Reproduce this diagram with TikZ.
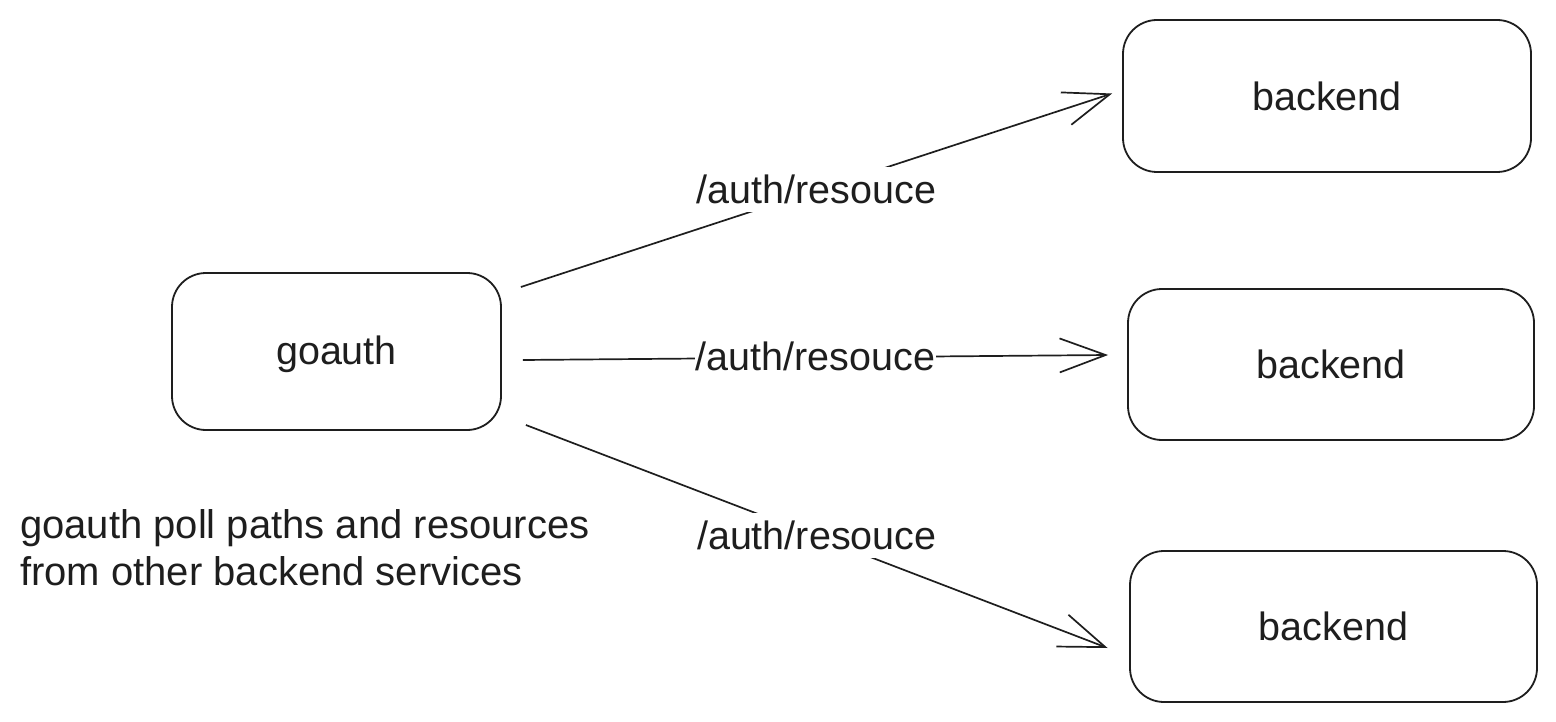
\documentclass[tikz,border=0pt]{standalone}
\usepackage{fontspec}
\setmainfont{Liberation Sans}
\usetikzlibrary{arrows.meta}
\definecolor{ink}{HTML}{1E1E1E}
\begin{document}
\begin{tikzpicture}[x=1pt,y=-1pt,
  box/.style={draw=ink, line width=1.8pt, rounded corners=34pt, inner sep=0pt,
    text=ink, font=\fontsize{39.5}{47}\selectfont},
  conn/.style={draw=ink, line width=1.7pt,
    -{Straight Barb[length=46pt,width=34pt]}},
  lbl/.style={fill=white, text=ink, inner xsep=1pt, inner ysep=8pt,
    font=\fontsize{39.5}{47}\selectfont, yshift=1pt},
  note/.style={text=ink, inner sep=0pt, align=left,
    font=\fontsize{40}{47}\selectfont}]
\useasboundingbox (0,0) rectangle (1556,722);

\node[box, minimum width=329pt, minimum height=157pt, text depth=2.3pt] (goauth) at (336.5,351.5) {goauth};
\node[box, minimum width=408pt, minimum height=152pt] (b1) at (1327,96) {backend};
\node[box, minimum width=406pt, minimum height=151pt] (b2) at (1331,364.5) {backend};
\node[box, minimum width=407pt, minimum height=151pt] (b3) at (1333.5,626.5) {backend};

\coordinate (s1) at ([shift={(19,-64.5)}]goauth.east);
\coordinate (s2) at ([shift={(21,8.5)}]goauth.east);
\coordinate (s3) at ([shift={(24,73.5)}]goauth.east);
\coordinate (e1) at ([shift={(-10,-2.5)}]b1.west);
\coordinate (e2) at ([shift={(-19,-9.5)}]b2.west);
\coordinate (e3) at ([shift={(-21.5,21.5)}]b3.west);

\draw[conn] (s1) -- node[lbl] (l1) {/auth/resouce} (e1);
\draw[conn] (s2) -- node[lbl] (l2) {/auth/resouce} (e2);
\draw[conn] (s3) -- node[lbl] (l3) {/auth/resouce} (e3);

\node[note, anchor=base west] (note) at (20,585)
  {goauth poll paths and resources\\from other backend services};
\end{tikzpicture}
\end{document}
